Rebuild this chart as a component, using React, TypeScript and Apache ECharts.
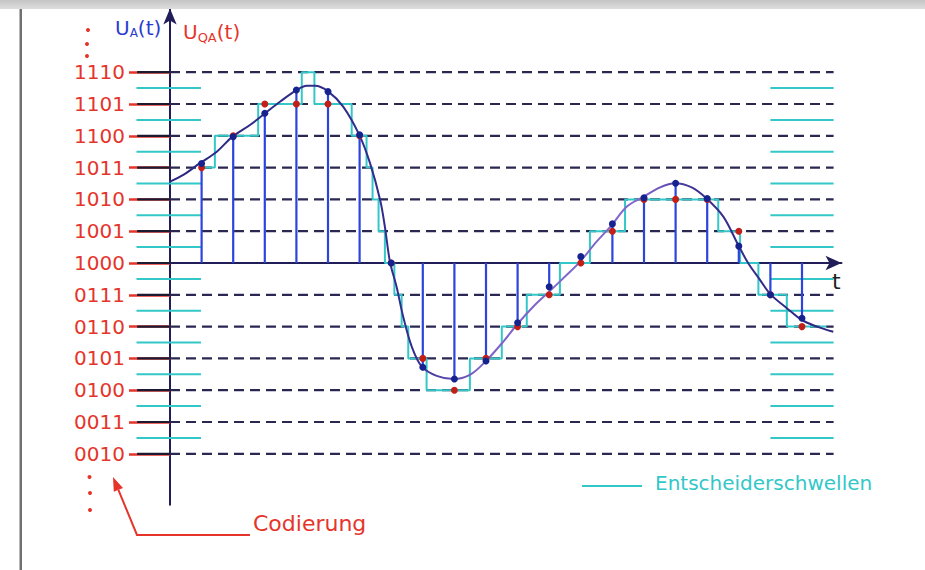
import React, { useEffect, useRef } from "react";
import * as echarts from "echarts";

// Quantisation levels (relative to code 1000) and their codes
const LEVEL_VALUES = [6, 5, 4, 3, 2, 1, 0, -1, -2, -3, -4, -5, -6];
const LEVEL_CODES = ["1110", "1101", "1100", "1011", "1010", "1001", "1000", "0111", "0110", "0101", "0100", "0011", "0010"];
// Decision thresholds (half levels)
const THRESHOLDS = [5.5, 4.5, 3.5, 2.5, 1.5, 0.5, -0.5, -1.5, -2.5, -3.5, -4.5, -5.5];

// Continuous analogue signal u_A(t)
const CURVE_T = [-0.53, 0, 0.42, 0.95, 1.48, 1.95, 2.53, 3.01, 3.48, 3.98, 4.33, 4.59, 5.01, 5.48, 5.99, 6.33, 6.65, 6.8, 6.96, 7.17, 7.38, 7.65, 7.97, 8.44, 8.97, 9.49, 10.0, 10.55, 10.97, 11.5, 12.0, 12.55, 12.95, 13.5, 13.98, 14.45, 14.98, 15.51, 15.98, 16.51, 16.98, 17.51, 17.98, 18.3, 18.67, 18.99, 19.52, 19.99, 20.47, 20.99];
const CURVE_V = [2.37, 2.56, 2.77, 3.14, 3.5, 3.95, 4.34, 4.71, 5.07, 5.42, 5.57, 5.57, 5.39, 4.92, 4.03, 3.14, 1.98, 1.14, 0.04, -0.75, -1.69, -2.63, -3.26, -3.55, -3.65, -3.52, -3.08, -2.47, -1.95, -1.37, -0.9, -0.38, 0.01, 0.67, 1.19, 1.77, 2.08, 2.38, 2.51, 2.38, 2.03, 1.46, 0.57, -0.01, -0.53, -0.97, -1.42, -1.79, -2.0, -2.16];

// Samples (blue) and quantised samples (red)
const SAMPLE_T = [1, 2, 3, 4, 5, 6, 7, 8, 9, 10, 11, 12, 13, 14, 15, 16, 17, 18, 19, 20];
const SAMPLE_V = [3.13, 3.97, 4.71, 5.44, 5.39, 4.03, 0, -3.28, -3.65, -3.08, -1.88, -0.75, 0.2, 1.23, 2.05, 2.51, 2.03, 0.53, -1.0, -1.74];
const QUANT_V = [3, 4, 5, 5, 5, 4, 0, -3, -4, -3, -2, -1, 0, 1, 2, 2, 2, 1, -1, -2];

// Quantised continuous signal (staircase): level starting at each time
const STAIR_T = [1, 1.42, 2.79, 4.17, 4.57, 5.75, 6.22, 6.41, 6.6, 6.8, 7.1, 7.33, 7.54, 8.12, 9.49, 10.5, 11.29, 12.34, 13.29, 14.4, 17.35, 18.04, 18.62, 19.52, 20.78];
const STAIR_V = [3, 4, 5, 6, 5, 4, 3, 2, 1, 0, -1, -2, -3, -4, -3, -2, -1, 0, 1, 2, 1, 0, -1, -2, -2];

const X_MAX = 21.25;
const Y_MIN = -7.6;
const Y_MAX = 8;
const PX_X = 31.6;
const PX_Y = 31.8;

const NAVY = "#201d58";
const CYAN = "#33c7c8";
const RED = "#e5352b";
const BLUE = "#2c44dc";
const FONT = "DejaVu Sans";

export default function App() {
  const ref = useRef<HTMLDivElement>(null);

  useEffect(() => {
    if (!ref.current) return;
    const chart = echarts.init(ref.current, null, { renderer: "svg" });

    const hLine = (x0: number, x1: number, stroke: string, width: number, dash?: number[]) =>
      (params: any, api: any) => {
        const v = api.value(1);
        const p1 = api.coord([x0, v]);
        const p2 = api.coord([x1, v]);
        return {
          type: "line",
          shape: { x1: p1[0], y1: p1[1], x2: p2[0], y2: p2[1] },
          style: { stroke, lineWidth: width, lineDash: dash },
        };
      };

    const option: any = {
      animation: false,
      backgroundColor: "#ffffff",
      grid: { left: 170, top: 263 - Y_MAX * PX_Y, width: X_MAX * PX_X, height: (Y_MAX - Y_MIN) * PX_Y },
      xAxis: {
        type: "value",
        min: 0,
        max: X_MAX,
        axisLine: { show: true, onZero: true, symbol: ["none", "arrow"], symbolSize: [11, 16], lineStyle: { color: NAVY, width: 2 } },
        axisTick: { show: false },
        axisLabel: { show: false },
        splitLine: { show: false },
      },
      yAxis: {
        type: "value",
        min: Y_MIN,
        max: Y_MAX,
        axisLine: { show: true, onZero: true, symbol: ["none", "arrow"], symbolSize: [10, 16], lineStyle: { color: NAVY, width: 2 } },
        axisTick: { show: true, customValues: LEVEL_VALUES, length: 41, lineStyle: { color: RED, width: 2.5 } },
        axisLabel: {
          show: true,
          customValues: LEVEL_VALUES,
          margin: 45,
          color: RED,
          fontSize: 20,
          fontFamily: FONT,
          formatter: (val: number) => {
            const i = LEVEL_VALUES.indexOf(Math.round(val));
            return i >= 0 ? LEVEL_CODES[i] : "";
          },
        },
        splitLine: { show: false },
      },
      series: [
        {
          type: "custom",
          name: "levels",
          silent: true,
          z: 1,
          data: LEVEL_VALUES.filter((v) => v !== 0).map((v) => [0, v]),
          renderItem: hLine(0, 21, "#2a2850", 2.2, [10, 6]),
        },
        {
          type: "custom",
          name: "ticks",
          silent: true,
          z: 1,
          data: LEVEL_VALUES.map((v) => [0, v]),
          renderItem: hLine(-1.04, 0, "#1c1a30", 2.2),
        },
        {
          type: "custom",
          name: "thresholdsLeft",
          silent: true,
          z: 1,
          data: THRESHOLDS.map((v) => [0, v]),
          renderItem: hLine(-1.06, 0.98, CYAN, 2),
        },
        {
          type: "custom",
          name: "thresholdsRight",
          silent: true,
          z: 1,
          data: THRESHOLDS.map((v) => [0, v]),
          renderItem: hLine(19, 21, CYAN, 2),
        },
        {
          type: "line",
          name: "u_QA staircase",
          step: "end",
          symbol: "none",
          z: 2,
          data: STAIR_T.map((t, i) => [t, STAIR_V[i]]),
          lineStyle: { color: CYAN, width: 2 },
        },
        {
          type: "bar",
          name: "samples",
          barWidth: 2.2,
          z: 3,
          data: SAMPLE_T.map((t, i) => [t, SAMPLE_V[i]]),
          itemStyle: { color: BLUE },
        },
        {
          type: "line",
          name: "u_A",
          smooth: 0.35,
          symbol: "none",
          z: 4,
          data: CURVE_T.map((t, i) => [t, CURVE_V[i]]),
          lineStyle: {
            width: 2,
            color: new echarts.graphic.LinearGradient(0, 0, 1, 0, [
              { offset: 0, color: "#2b2880" },
              { offset: 0.38, color: "#352d8e" },
              { offset: 0.48, color: "#7e62c8" },
              { offset: 0.72, color: "#8467cc" },
              { offset: 0.8, color: "#3a2f92" },
              { offset: 1, color: "#2b2880" },
            ]),
          },
        },
        {
          type: "scatter",
          name: "quantised",
          symbol: "circle",
          symbolSize: 7,
          z: 6,
          data: SAMPLE_T.map((t, i) => [t, QUANT_V[i]]),
          itemStyle: { color: "#c21f18", opacity: 1 },
        },
        {
          type: "scatter",
          name: "sampled",
          symbol: "circle",
          symbolSize: 7,
          z: 7,
          data: SAMPLE_T.map((t, i) => [t, SAMPLE_V[i]]),
          itemStyle: { color: "#16238f", opacity: 1 },
        },
      ],
      graphic: [
        { type: "rect", z: 100, shape: { x: 0, y: 0, width: 925, height: 9 }, style: { fill: new echarts.graphic.LinearGradient(0, 0, 0, 1, [{ offset: 0, color: "#c4c4c4" }, { offset: 1, color: "#dddddd" }]) } },
        { type: "rect", z: 100, shape: { x: 19.5, y: 9, width: 2.5, height: 561 }, style: { fill: "#707070" } },
        {
          type: "text",
          x: 115,
          y: 17,
          style: {
            text: "{m|U}{s|A}{m|(t)}",
            fill: "#2a3bd0",
            rich: {
              m: { fontSize: 20, fontFamily: FONT, fill: "#2a3bd0" },
              s: { fontSize: 12, fontFamily: FONT, fill: "#2a3bd0", padding: [10, 0, 0, 0] },
            },
          },
        },
        {
          type: "text",
          x: 183,
          y: 20,
          style: {
            text: "{m|U}{s|QA}{m|(t)}",
            fill: RED,
            rich: {
              m: { fontSize: 20, fontFamily: FONT, fill: RED },
              s: { fontSize: 13, fontFamily: FONT, fill: RED, padding: [11, 0, 0, 0] },
            },
          },
        },
        { type: "text", x: 832, y: 270, style: { text: "t", fontSize: 22, fontFamily: FONT, fill: "#222" } },
        { type: "circle", shape: { cx: 88, cy: 30, r: 2 }, style: { fill: RED } },
        { type: "circle", shape: { cx: 87, cy: 44, r: 2 }, style: { fill: RED } },
        { type: "circle", shape: { cx: 87, cy: 56, r: 2 }, style: { fill: RED } },
        { type: "circle", shape: { cx: 89.5, cy: 477, r: 2 }, style: { fill: RED } },
        { type: "circle", shape: { cx: 90, cy: 493, r: 2 }, style: { fill: RED } },
        { type: "circle", shape: { cx: 90, cy: 510, r: 2 }, style: { fill: RED } },
        { type: "polyline", shape: { points: [[250, 535], [137, 535], [118.4, 489.9]] }, style: { stroke: RED, lineWidth: 2, fill: null } },
        { type: "polygon", shape: { points: [[113, 477], [123, 488], [113.8, 491.8]] }, style: { fill: RED } },
        { type: "text", x: 253, y: 512, style: { text: "Codierung", fontSize: 22, fontFamily: FONT, fill: RED } },
        { type: "line", shape: { x1: 582, y1: 486, x2: 642, y2: 486 }, style: { stroke: CYAN, lineWidth: 2 } },
        { type: "text", x: 655, y: 473, style: { text: "Entscheiderschwellen", fontSize: 20, fontFamily: FONT, fill: CYAN } },
      ],
    };

    chart.setOption(option);
    return () => chart.dispose();
  }, []);

  return <div ref={ref} style={{ position: "fixed", left: 0, top: 0, width: 925, height: 570 }} />;
}
